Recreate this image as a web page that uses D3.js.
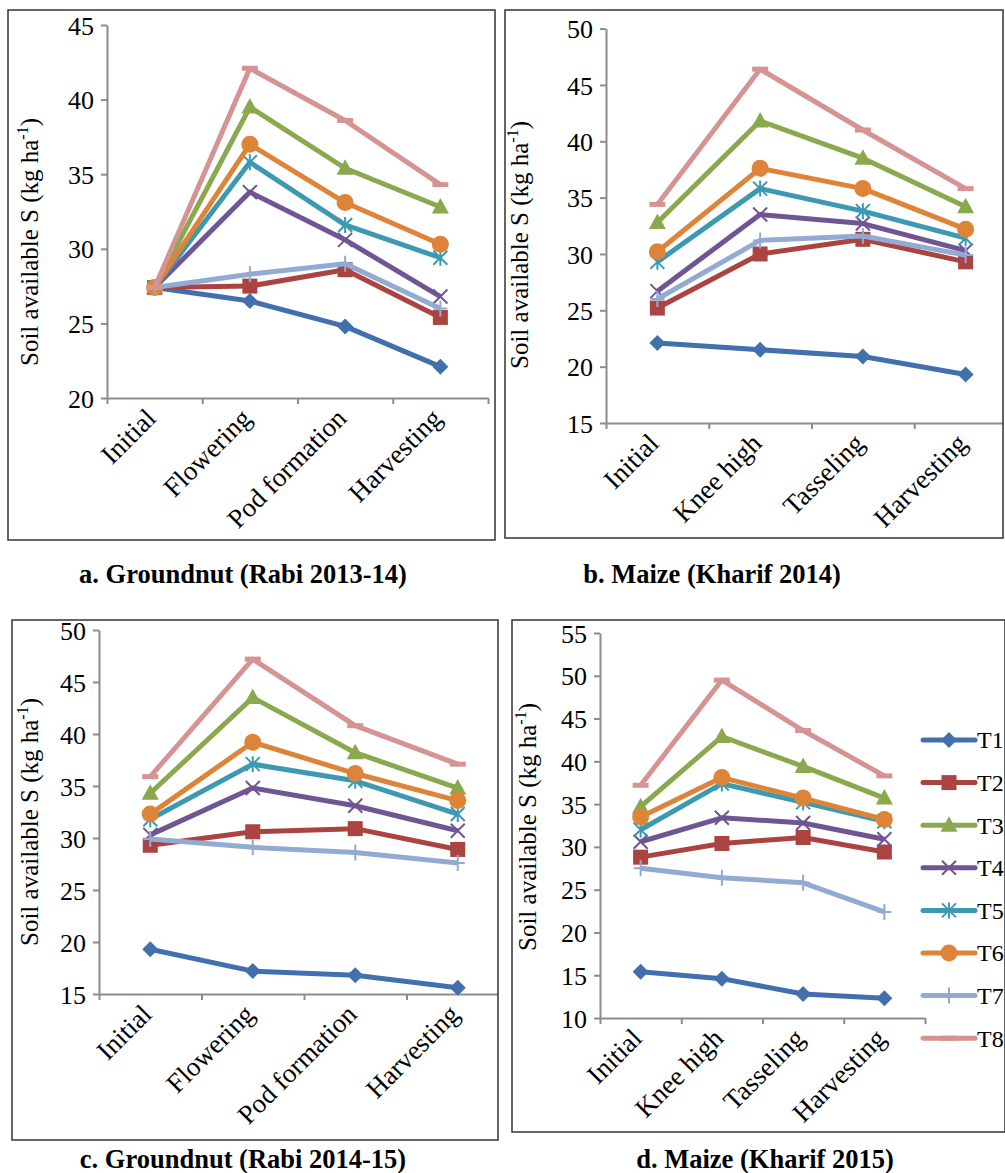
<!DOCTYPE html>
<html>
<head>
<meta charset="utf-8">
<script src="https://cdn.jsdelivr.net/npm/d3@7"></script>
<style>
  body { margin: 0; background: #fff; }
</style>
</head>
<body>
<div id="chart"></div>
<script>
// treatments and stages
var treatments = ["T1", "T2", "T3", "T4", "T5", "T6", "T7", "T8"];
var groundnutStages = ["Initial", "Flowering", "Pod formation", "Harvesting"];
var maizeStages = ["Initial", "Knee high", "Tasseling", "Harvesting"];

// a. Groundnut (Rabi 2013-14)
var gn1314 = [
  [27.4, 26.5, 24.8, 22.1],
  [27.4, 27.5, 28.6, 25.4],
  [27.4, 39.5, 35.4, 32.8],
  [27.4, 33.8, 30.6, 26.8],
  [27.4, 35.8, 31.6, 29.4],
  [27.4, 37.0, 33.1, 30.3],
  [27.4, 28.3, 29.0, 26.0],
  [27.4, 42.1, 38.6, 34.3]
];
// b. Maize (Kharif 2014)
var mz2014 = [
  [22.1, 21.5, 20.9, 19.3],
  [25.2, 30.0, 31.3, 29.3],
  [32.8, 41.8, 38.5, 34.2],
  [26.7, 33.5, 32.7, 30.3],
  [29.3, 35.8, 33.8, 31.4],
  [30.2, 37.6, 35.8, 32.2],
  [26.0, 31.2, 31.6, 29.9],
  [34.4, 46.4, 41.0, 35.8]
];
// c. Groundnut (Rabi 2014-15)
var gn1415 = [
  [19.3, 17.2, 16.8, 15.6],
  [29.3, 30.6, 30.9, 28.9],
  [34.3, 43.5, 38.2, 34.8],
  [30.3, 34.8, 33.1, 30.7],
  [31.8, 37.1, 35.5, 32.3],
  [32.3, 39.2, 36.2, 33.6],
  [29.9, 29.1, 28.6, 27.6],
  [35.9, 47.2, 40.8, 37.1]
];
// d. Maize (Kharif 2015)
var mz2015 = [
  [15.4, 14.6, 12.8, 12.3],
  [28.8, 30.4, 31.1, 29.4],
  [34.7, 42.9, 39.4, 35.7],
  [30.6, 33.4, 32.8, 30.9],
  [32.0, 37.4, 35.2, 33.0],
  [33.5, 38.1, 35.7, 33.2],
  [27.5, 26.4, 25.8, 22.4],
  [37.2, 49.5, 43.6, 38.3]
];

var colors = ["#4170ad", "#ab4441", "#8aa84e", "#6f5592", "#3d99b2", "#dd8438", "#93aad2", "#d69393"];
var markers = ["diamond", "square", "triangle", "cross", "star", "circle", "plus", "dash"];
var serif = "'Liberation Serif', 'Times New Roman', Times, serif";

var svg = d3.select("#chart").append("svg")
  .attr("width", 1005)
  .attr("height", 1173)
  .attr("font-family", serif);

// draw one marker at (0,0) inside g
function drawMarker(g, type, color) {
  if (type == "diamond") {
    g.append("path").attr("d", "M0,-8L8,0L0,8L-8,0Z").attr("fill", color);
  } else if (type == "square") {
    g.append("rect").attr("x", -7.5).attr("y", -7.5).attr("width", 15).attr("height", 15).attr("fill", color);
  } else if (type == "triangle") {
    g.append("path").attr("d", "M0,-9L8.5,6.5L-8.5,6.5Z").attr("fill", color);
  } else if (type == "circle") {
    g.append("circle").attr("r", 8.5).attr("fill", color);
  } else if (type == "cross") {
    g.append("path").attr("d", "M-7,-7L7,7M7,-7L-7,7").attr("stroke", color).attr("stroke-width", 2);
  } else if (type == "star") {
    g.append("path").attr("d", "M-7,-7L7,7M7,-7L-7,7M0,-8L0,8").attr("stroke", color).attr("stroke-width", 2);
  } else if (type == "plus") {
    g.append("path").attr("d", "M0,-8L0,8M-7,0L7,0").attr("stroke", color).attr("stroke-width", 2);
  } else if (type == "dash") {
    g.append("path").attr("d", "M-8,0L8,0").attr("stroke", color).attr("stroke-width", 5);
  }
}

function drawPanel(p) {
  var clipId = "clip-" + p.id;
  svg.append("clipPath").attr("id", clipId)
    .append("rect")
    .attr("x", p.box[0]).attr("y", p.box[1])
    .attr("width", p.box[2] - p.box[0]).attr("height", p.box[3] - p.box[1]);

  var g = svg.append("g").attr("clip-path", "url(#" + clipId + ")");

  var x = d3.scaleBand().domain(p.stages).range([p.left, p.right]).padding(0);
  var y = d3.scaleLinear().domain(p.yDomain).range([p.bottom, p.top]);
  var cx = function (s) { return x(s) + x.bandwidth() / 2; };

  // y axis
  var yAxis = g.append("g")
    .attr("transform", "translate(" + p.left + ",0)")
    .call(d3.axisLeft(y).tickValues(d3.range(p.yDomain[0], p.yDomain[1] + 1, 5)).tickSize(6).tickSizeOuter(0).tickPadding(7));
  yAxis.attr("font-family", serif).attr("font-size", 26);
  yAxis.selectAll("text").attr("fill", "#000").attr("dy", "0.35em");

  // x axis, ticks between categories
  var xEdge = d3.scaleLinear().domain([0, p.stages.length]).range([p.left, p.right]);
  g.append("g")
    .attr("transform", "translate(0," + p.bottom + ")")
    .call(d3.axisBottom(xEdge).ticks(p.stages.length).tickSize(6).tickSizeOuter(0).tickFormat(""));

  g.selectAll(".domain, .tick line").attr("stroke", "#8c8c8c").attr("stroke-width", 2);

  g.selectAll(".xlab")
    .data(p.stages)
    .enter().append("text")
    .attr("class", "xlab")
    .attr("transform", function (d) { return "translate(" + (cx(d) + 3) + "," + (p.bottom + 22) + ") rotate(-45)"; })
    .attr("text-anchor", "end")
    .attr("font-family", serif)
    .attr("font-size", 27)
    .text(function (d) { return d; });

  // y label
  var yl = svg.append("text")
    .attr("transform", "translate(" + p.ylabX + "," + p.ylabY + ") rotate(-90)")
    .attr("text-anchor", "middle")
    .attr("font-family", serif)
    .attr("font-size", 25);
  yl.append("tspan").text("Soil available S (kg ha");
  yl.append("tspan").attr("dy", -10).attr("font-size", 16).text("-1");
  yl.append("tspan").attr("dy", 10).text(")");

  // lines and markers
  var line = d3.line()
    .x(function (d, i) { return cx(p.stages[i]); })
    .y(function (d) { return y(d); });

  p.values.forEach(function (vals, k) {
    g.append("path")
      .datum(vals)
      .attr("fill", "none")
      .attr("stroke", colors[k])
      .attr("stroke-width", 5)
      .attr("stroke-linejoin", "round")
      .attr("d", line);
    vals.forEach(function (v, i) {
      var m = g.append("g").attr("transform", "translate(" + cx(p.stages[i]) + "," + y(v) + ")");
      drawMarker(m, markers[k], colors[k]);
    });
  });

  // frame
  svg.append("rect")
    .attr("x", p.box[0]).attr("y", p.box[1])
    .attr("width", p.box[2] - p.box[0]).attr("height", p.box[3] - p.box[1])
    .attr("fill", "none").attr("stroke", "#333").attr("stroke-width", 1.5);

  svg.append("text")
    .attr("x", p.titleX).attr("y", p.titleY)
    .attr("text-anchor", "middle")
    .attr("font-family", serif)
    .attr("font-size", 26.5)
    .attr("font-weight", "bold")
    .text(p.title);
}

drawPanel({
  id: "a", title: "a. Groundnut (Rabi 2013-14)", stages: groundnutStages, values: gn1314,
  box: [8, 10, 495, 540], left: 107, right: 488, top: 25, bottom: 398, yDomain: [20, 45],
  ylabX: 38, ylabY: 242, titleX: 243, titleY: 583
});
drawPanel({
  id: "b", title: "b. Maize (Kharif 2014)", stages: maizeStages, values: mz2014,
  box: [505, 10, 1003, 538], left: 606, right: 1017, top: 28.6, bottom: 423, yDomain: [15, 50],
  ylabX: 528, ylabY: 245, titleX: 712, titleY: 583
});
drawPanel({
  id: "c", title: "c. Groundnut (Rabi 2014-15)", stages: groundnutStages, values: gn1415,
  box: [12, 620, 498, 1140], left: 99, right: 509, top: 630, bottom: 994, yDomain: [15, 50],
  ylabX: 38, ylabY: 822, titleX: 243, titleY: 1168
});
drawPanel({
  id: "d", title: "d. Maize (Kharif 2015)", stages: maizeStages, values: mz2015,
  box: [512, 620, 1005, 1132], left: 600, right: 925, top: 633, bottom: 1018, yDomain: [10, 55],
  ylabX: 536, ylabY: 827, titleX: 765, titleY: 1168
});

// legend inside panel d
var legend = svg.append("g");
treatments.forEach(function (t, k) {
  var ly = 740 + k * 42.6;
  legend.append("line")
    .attr("x1", 923).attr("x2", 975).attr("y1", ly).attr("y2", ly)
    .attr("stroke", colors[k]).attr("stroke-width", 5).attr("stroke-linecap", "round");
  var m = legend.append("g").attr("transform", "translate(949," + ly + ")");
  drawMarker(m, markers[k], colors[k]);
  legend.append("text")
    .attr("x", 977).attr("y", ly).attr("dy", "0.35em")
    .attr("font-family", serif)
    .attr("font-size", 24)
    .text(t);
});
</script>
</body>
</html>
